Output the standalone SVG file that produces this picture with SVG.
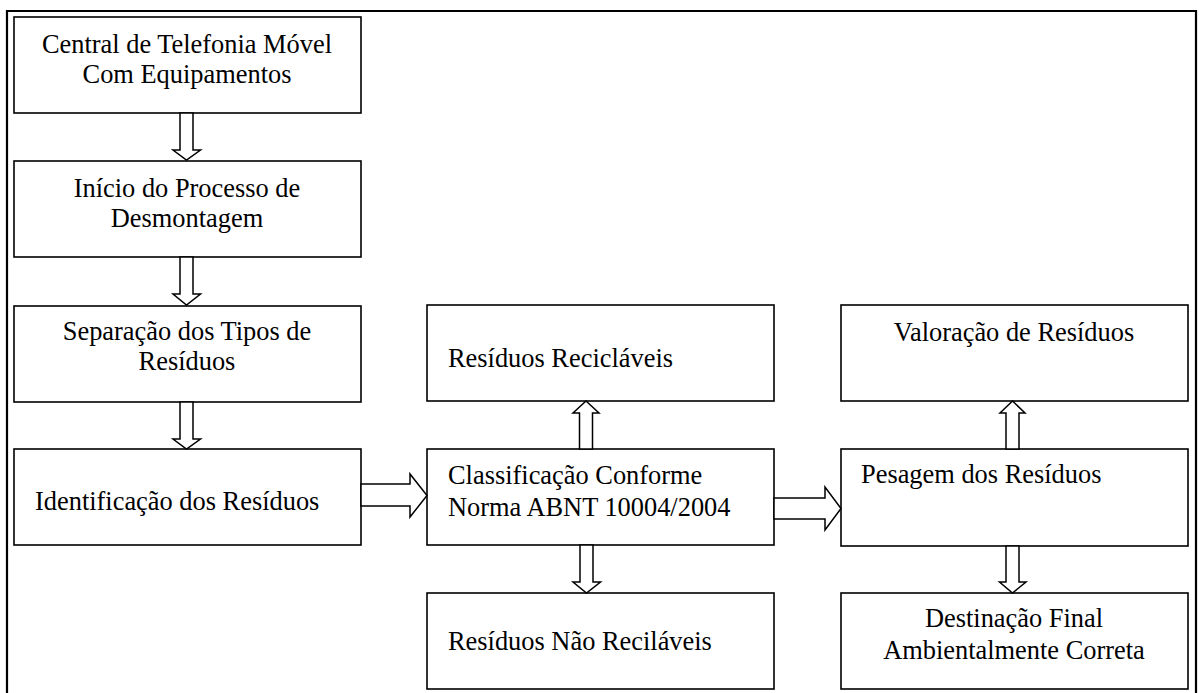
<svg xmlns="http://www.w3.org/2000/svg" width="1199" height="693" viewBox="0 0 1199 693">
<rect x="0" y="0" width="1199" height="693" fill="#fff"/>
<path d="M7,700 V11 H1196 V700" fill="none" stroke="#000" stroke-width="2.2"/>
<g id="n1"><rect fill="#fff" stroke="#000" stroke-width="1.6" x="14" y="17" width="347" height="96"/><text font-family="Tinos" font-size="26.4" text-anchor="middle" x="187" y="53">Central de Telefonia Móvel</text><text font-family="Tinos" font-size="26.4" text-anchor="middle" x="187" y="83">Com Equipamentos</text></g>
<g id="n2"><rect fill="#fff" stroke="#000" stroke-width="1.6" x="14" y="161" width="347" height="96"/><text font-family="Tinos" font-size="26.4" text-anchor="middle" x="187" y="197">Início do Processo de</text><text font-family="Tinos" font-size="26.4" text-anchor="middle" x="187" y="227">Desmontagem</text></g>
<g id="n3"><rect fill="#fff" stroke="#000" stroke-width="1.6" x="14" y="306" width="347" height="96"/><text font-family="Tinos" font-size="26.4" text-anchor="middle" x="187" y="340">Separação dos Tipos de</text><text font-family="Tinos" font-size="26.4" text-anchor="middle" x="187" y="370">Resíduos</text></g>
<g id="n4"><rect fill="#fff" stroke="#000" stroke-width="1.6" x="14" y="449" width="347" height="96"/><text font-family="Times New Roman" font-size="26.4" x="35" y="510">Identificação dos Resíduos</text></g>
<g id="n5"><rect fill="#fff" stroke="#000" stroke-width="1.6" x="427" y="305" width="347" height="96"/><text font-family="Times New Roman" font-size="26.4" x="448" y="367">Resíduos Recicláveis</text></g>
<g id="n6"><rect fill="#fff" stroke="#000" stroke-width="1.6" x="427" y="449" width="347" height="96"/><text font-family="Times New Roman" font-size="26.4" x="448" y="484">Classificação Conforme</text><text font-family="Times New Roman" font-size="26.4" x="448" y="516">Norma ABNT 10004/2004</text></g>
<g id="n7"><rect fill="#fff" stroke="#000" stroke-width="1.6" x="427" y="593" width="347" height="96"/><text font-family="serif" font-size="26.4" x="448" y="650">Resíduos Não Reciláveis</text></g>
<g id="n8"><rect fill="#fff" stroke="#000" stroke-width="1.6" x="841" y="305" width="347" height="96"/><text font-family="serif" font-size="26.4" text-anchor="middle" x="1014" y="341">Valoração de Resíduos</text></g>
<g id="n9"><rect fill="#fff" stroke="#000" stroke-width="1.6" x="841" y="449" width="347" height="97"/><text font-family="Liberation Serif" font-size="26.4" x="861" y="483">Pesagem dos Resíduos</text></g>
<g id="n10"><rect fill="#fff" stroke="#000" stroke-width="1.6" x="841" y="593" width="347" height="96"/><text font-family="Liberation Serif" font-size="26.4" text-anchor="middle" x="1014" y="627">Destinação Final</text><text font-family="Liberation Serif" font-size="26.4" text-anchor="middle" x="1014" y="659">Ambientalmente Correta</text></g>
<g id="connectors" fill="#fff" stroke="#000" stroke-width="1.5">
<polygon points="180,113 193,113 193,150 200.5,150 186.5,160 173,150 180,150"/>
<polygon points="180,257 193,257 193,294 200.5,294 186.5,305 173,294 180,294"/>
<polygon points="180,402 193,402 193,439 200.5,439 186.5,449 173,439 180,439"/>
<polygon points="361,484 410,484 410,474 427,495.5 410,517 410,506 361,506"/>
<polygon points="774,498 825,498 825,487 841,508.5 825,530 825,519 774,519"/>
<polygon points="579.5,449 579.5,413 573,413 586,401 599,413 592.5,413 592.5,449"/>
<polygon points="580,545 593,545 593,582 600.5,582 586.5,593 573,582 580,582"/>
<polygon points="1006,449 1006,413 1000,413 1012.5,401 1025,413 1019,413 1019,449"/>
<polygon points="1006,546 1019,546 1019,582 1026,582 1012.5,593 999.5,582 1006,582"/>
</g>
</svg>
